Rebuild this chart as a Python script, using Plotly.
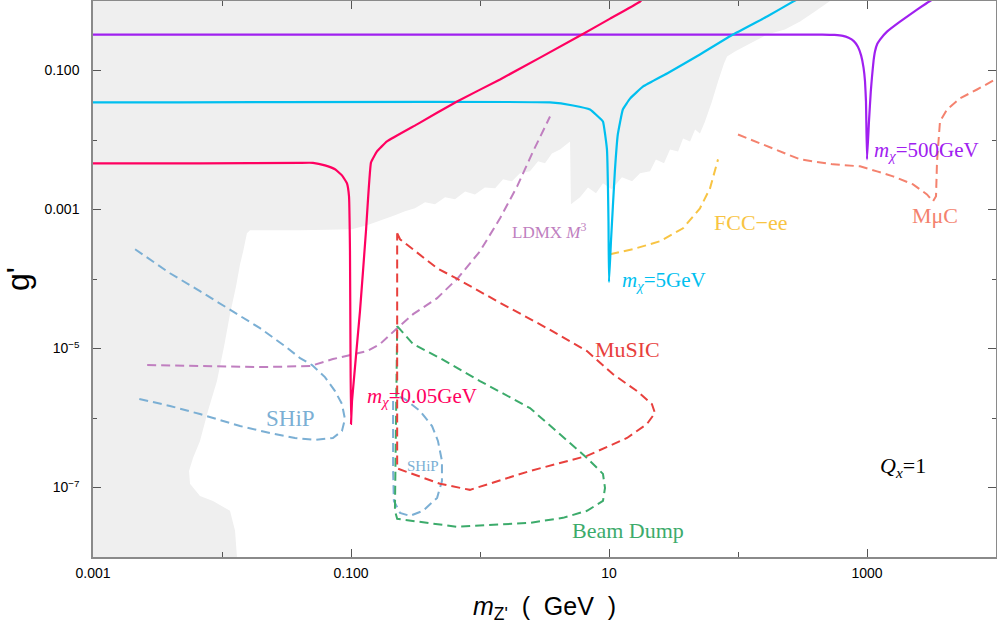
import plotly.graph_objects as go

# ---------------- data ----------------
# grey excluded region boundary
excl_x = [0.001, 517, 395, 303, 231, 168, 124, 94.8, 82.2, 77.9, 70.0, 62.8, 55.5, 50.7, 46.5, 42.5,
          37.5, 34.3, 29.7, 26.7, 23.1, 20.8, 17.4, 15.1, 12.6, 10.5, 8.98, 7.93, 6.87, 5.96, 5.07,
          4.99, 4.17, 3.61, 3.19, 2.82, 2.44, 2.04, 1.77, 1.51, 1.31, 1.09, 0.914, 0.766, 0.640, 0.536,
          0.448, 0.375, 0.313, 0.262, 0.219, 0.168, 0.133, 0.1018, 0.0403, 0.0165, 0.0156, 0.0146,
          0.0138, 0.01285, 0.01153, 0.01038, 9.14e-3, 7.78e-3, 6.75e-3, 5.96e-3, 5.55e-3, 5.65e-3,
          6.75e-3, 8.51e-3, 0.01153, 0.01262, 0.01306, 0.001]
excl_y = [1.0, 1.0, 0.705, 0.506, 0.388, 0.329, 0.244, 0.188, 0.159, 0.126, 0.0695, 0.0359, 0.0185,
          0.01245, 0.0142, 9.55e-3, 0.01054, 6.86e-3, 7.33e-3, 4.61e-3, 5.26e-3, 3.54e-3, 3.31e-3,
          2.54e-3, 2.90e-3, 1.95e-3, 2.38e-3, 1.71e-3, 2.08e-3, 1.50e-3, 1.19e-3, 9.55e-3, 7.33e-3,
          6.41e-3, 4.61e-3, 4.93e-3, 3.54e-3, 3.31e-3, 2.54e-3, 2.72e-3, 2.02e-3, 2.08e-3, 1.65e-3,
          1.82e-3, 1.40e-3, 1.50e-3, 1.19e-3, 1.27e-3, 1.04e-3, 9.42e-4, 8.26e-4, 7.0e-4, 5.93e-4,
          5.2e-4, 5.02e-4, 5.02e-4, 4.55e-4, 2.51e-4, 1.63e-4, 7.89e-5, 3.12e-5, 1.08e-5, 3.40e-6,
          1.26e-6, 4.68e-7, 2.66e-7, 1.73e-7, 1.13e-7, 7.57e-8, 6.41e-8, 4.62e-8, 2.38e-8, 1e-8, 1e-8]

# m_chi = 0.05 GeV
pink_x = [0.001, 6.75e-3, 0.0403, 0.0507, 0.0628, 0.0752, 0.0851, 0.0931, 0.0965, 0.0982, 0.0991, 0.100,
          0.1018, 0.1174, 0.1306, 0.1429, 0.159, 0.190, 0.325, 0.664, 1.43, 6.18, 10.2, 17.4, 19.0]
pink_y = [4.6e-3, 4.6e-3, 4.7e-3, 4.7e-3, 4.32e-3, 3.79e-3, 3.10e-3, 2.38e-3, 1.55e-3, 2.51e-4, 9.2e-6, 8.2e-7,
          1.75e-6, 3.44e-5, 4.86e-4, 4.76e-3, 6.86e-3, 9.55e-3, 0.0168, 0.0359, 0.0743, 0.329, 0.558, 0.98, 1.2]

# m_chi = 5 GeV
cyan_x = [0.001, 3.49, 5.26, 7.12, 8.22, 8.98, 9.64, 9.91, 10.0, 10.36, 11.1, 11.7, 12.8, 14.6, 18.4,
          28.2, 50.7, 91.4, 168, 267, 300]
cyan_y = [0.0347, 0.0347, 0.0314, 0.0275, 0.0218, 0.0185, 7.33e-3, 6.76e-4, 9.0e-5, 3.49e-4, 3.54e-3,
          0.0120, 0.0275, 0.0397, 0.0589, 0.0906, 0.170, 0.329, 0.597, 0.98, 1.1]

# m_chi = 500 GeV
purple_x = [0.001, 450, 560, 650, 720, 790, 850, 900, 940, 965, 982, 1000, 1036, 1070, 1094, 1125, 1153,
            1200, 1262, 1429, 1803, 2443, 3080, 3400]
purple_y = [0.329, 0.329, 0.325, 0.315, 0.295, 0.265, 0.220, 0.165, 0.110, 0.070, 0.0359, 5.26e-3, 0.0185,
            0.050, 0.082, 0.140, 0.188, 0.240, 0.279, 0.363, 0.506, 0.752, 1.0, 1.1]

# SHiP (large contour)
ship1_x = [2.12e-3, 2.77e-3, 3.95e-3, 6.75e-3, 0.01216, 0.0197, 0.0308, 0.0403, 0.0499, 0.0628, 0.0752,
           0.0851, 0.0897, 0.0851, 0.0724, 0.0526, 0.0368, 0.0235, 0.0138, 6.75e-3, 3.95e-3, 2.12e-3]
ship1_y = [2.68e-4, 1.92e-4, 1.21e-4, 6.68e-5, 3.44e-5, 1.96e-5, 1.08e-5, 7.28e-6, 5.77e-6, 3.88e-6,
           2.44e-6, 1.59e-6, 9.68e-7, 6.50e-7, 5.16e-7, 4.83e-7, 5.16e-7, 6.08e-7, 7.67e-7, 1.14e-6,
           1.49e-6, 1.94e-6]

# SHiP (small contour)
ship2_x = [0.212, 0.212, 0.215, 0.240, 0.286, 0.361, 0.465, 0.507, 0.507, 0.472, 0.425, 0.343, 0.262, 0.228]
ship2_y = [1.75e-6, 1.73e-7, 6.41e-8, 4.31e-8, 3.91e-8, 4.62e-8, 7.09e-8, 1.24e-7, 2.41e-7, 4.68e-7,
           7.67e-7, 1.26e-6, 1.87e-6, 2.07e-6]

# Beam Dump
bd_x = [0.228, 0.303, 0.490, 1.0, 2.44, 4.72, 6.75, 8.98, 9.31, 8.98, 6.75, 4.40, 2.44, 0.664, 0.228,
        0.219, 0.2234, 0.228]
bd_y = [2.10e-5, 1.16e-5, 7.28e-6, 3.40e-6, 1.39e-6, 4.68e-7, 2.66e-7, 1.57e-7, 9.86e-8, 6.41e-8,
        4.62e-8, 3.66e-8, 3.10e-8, 2.72e-8, 3.54e-8, 4.62e-8, 1.75e-6, 2.10e-5]

# MuSIC
music_x = [0.228, 0.240, 0.465, 0.674, 1.355, 3.31, 6.75, 10.7, 16.5, 21.5, 22.7, 19.7, 13.8, 6.75, 2.44,
           0.835, 0.490, 0.240, 0.228, 0.228]
music_y = [4.55e-4, 3.73e-4, 1.43e-4, 9.93e-5, 4.80e-5, 1.96e-5, 9.18e-6, 4.29e-6, 2.44e-6, 1.59e-6,
           1.18e-6, 8.2e-7, 5.16e-7, 2.85e-7, 1.73e-7, 9.25e-8, 1.13e-7, 1.85e-7, 1.88e-7, 4.55e-4]

# LDMX M^3
ldmx_x = [2.63e-3, 6.75e-3, 0.0197, 0.0481, 0.0724, 0.133, 0.168, 0.228, 0.303, 0.465, 0.674, 1.0, 1.43,
          1.94, 2.58, 3.49]
ldmx_y = [5.77e-6, 5.58e-6, 5.41e-6, 5.58e-6, 7.05e-6, 9.18e-6, 1.16e-5, 1.96e-5, 3.12e-5, 5.30e-5,
          1.03e-4, 2.51e-4, 7.48e-4, 2.15e-3, 6.86e-3, 0.0218]

# FCC-ee
fcc_x = [10.2, 15.3, 24.8, 37.5, 50.7, 60.7, 70.0]
fcc_y = [2.27e-4, 2.68e-4, 3.49e-4, 5.37e-4, 1.04e-3, 2.02e-3, 5.26e-3]

# MuC
muc_x = [100, 168, 303, 545, 883, 1196, 1592, 2275, 2917, 3250, 3428, 3490, 3680, 4170, 5260, 7130, 10200]
muc_y = [0.0120, 8.09e-3, 5.26e-3, 4.46e-3, 4.18e-3, 3.54e-3, 3.00e-3, 2.30e-3, 1.65e-3, 1.31e-3,
         1.55e-3, 4.93e-3, 0.0185, 0.0275, 0.0397, 0.0533, 0.0767]

x_tickvals = [0.001, 0.1, 10, 1000]
x_ticktext = ["0.001", "0.100", "10", "1000"]
x_minorvals = [0.01, 1, 100, 10000]
y_tickvals = [0.1, 0.001, 1e-5, 1e-7]
y_ticktext = ["0.100", "0.001", "10<sup>−5</sup>", "10<sup>−7</sup>"]
y_minorvals = [1, 0.01, 1e-4, 1e-6, 1e-8]

# ---------------- figure ----------------
fig = go.Figure()

fig.add_trace(go.Scatter(x=excl_x, y=excl_y, mode="lines", fill="toself", fillcolor="#efefef",
                         line=dict(width=0, color="#efefef"), hoverinfo="skip"))

DASH = "9px,5px"
dashed = [
    (ship1_x, ship1_y, "#7bafd4"),
    (ship2_x, ship2_y, "#7bafd4"),
    (ldmx_x, ldmx_y, "#c07fc0"),
    (bd_x, bd_y, "#3cab6b"),
    (music_x, music_y, "#e8403d"),
    (fcc_x, fcc_y, "#f8c443"),
    (muc_x, muc_y, "#f4826e"),
]
for xs, ys, c in dashed:
    fig.add_trace(go.Scatter(x=xs, y=ys, mode="lines", line=dict(color=c, width=2, dash=DASH)))

solid = [
    (purple_x, purple_y, "#a020f0"),
    (cyan_x, cyan_y, "#00bfef"),
    (pink_x, pink_y, "#ff0060"),
]
for xs, ys, c in solid:
    fig.add_trace(go.Scatter(x=xs, y=ys, mode="lines", line=dict(color=c, width=2.2, shape="spline",
                                                                  smoothing=0.3)))

SERIF = "Liberation Serif"
ann = [
    (0.301, 0.287, "left", "<i>m</i><sub><i>χ</i></sub>=0.05GeV", "#ff0060", 21),
    (0.584, 0.497, "left", "<i>m</i><sub><i>χ</i></sub>=5GeV", "#00bfef", 21),
    (0.863, 0.731, "left", "<i>m</i><sub><i>χ</i></sub>=500GeV", "#a020f0", 21),
    (0.219, 0.250, "center", "SHiP", "#7bafd4", 23),
    (0.365, 0.163, "center", "SHiP", "#7bafd4", 15),
    (0.462, 0.587, "left", "LDMX <i>M</i><sup>3</sup>", "#c07fc0", 17),
    (0.592, 0.373, "center", "MuSIC", "#e8403d", 22),
    (0.592, 0.048, "center", "Beam Dump", "#3cab6b", 22),
    (0.685, 0.601, "left", "FCC−ee", "#f8c443", 22),
    (0.932, 0.614, "center", "MμC", "#f4826e", 22),
    (0.869, 0.162, "left", "<i>Q</i><sub><i>x</i></sub>=1", "#000000", 22),
]
for x, y, xa, t, c, s in ann:
    fig.add_annotation(x=x, y=y, xref="paper", yref="paper", xanchor=xa, yanchor="middle",
                       text=t, showarrow=False, font=dict(family=SERIF, size=s, color=c))

axis_common = dict(
    showline=True, linecolor="#8a8a8a", linewidth=1.5, mirror="ticks",
    ticks="inside", ticklen=8, tickwidth=1.2, tickcolor="#555555",
    showgrid=False, zeroline=False, automargin=False,
    tickfont=dict(family="Liberation Sans", size=14, color="#000000"),
)

fig.update_xaxes(type="log", range=[-3, 4], tickmode="array", tickvals=x_tickvals, ticktext=x_ticktext,
                 ticklabelstandoff=2,
                 minor=dict(tickmode="array", tickvals=x_minorvals, ticks="inside", ticklen=5,
                            tickwidth=1.2, tickcolor="#555555", showgrid=False),
                 title=dict(text="<i>m</i><sub>Z'</sub>  (  GeV  )",
                            font=dict(family="Liberation Sans", size=25, color="#000000"), standoff=18),
                 **axis_common)
fig.update_yaxes(type="log", range=[-8, 0], tickmode="array", tickvals=y_tickvals, ticktext=y_ticktext,
                 ticklabelstandoff=9,
                 minor=dict(tickmode="array", tickvals=y_minorvals, ticks="inside", ticklen=4,
                            tickwidth=1.2, tickcolor="#555555", showgrid=False),
                 title=dict(text="g'", font=dict(family="Liberation Sans", size=32, color="#000000"),
                            standoff=10),
                 **axis_common)

fig.update_layout(
    width=997, height=632,
    margin=dict(l=93, r=1, t=1, b=75),
    paper_bgcolor="white", plot_bgcolor="white",
    showlegend=False,
)

fig.write_html("out.html", config={"displayModeBar": False},
               post_script="document.body.style.margin='0';")
